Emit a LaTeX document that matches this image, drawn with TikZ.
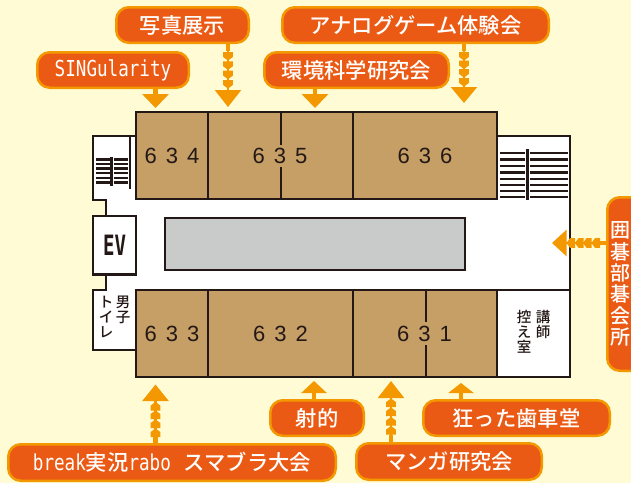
\documentclass[tikz,border=0pt]{standalone}
\usepackage{fontspec}
\usetikzlibrary{arrows.meta,calc}
\setmainfont{Noto Sans CJK JP}
\newfontfamily\jpf{Noto Sans CJK JP Medium}
\newfontfamily\latn[FakeStretch=0.8]{DejaVu Sans Mono}
\newfontfamily\evf[FakeStretch=0.68]{DejaVu Sans Mono Bold}
\newfontfamily\numf{Liberation Sans}
\definecolor{bgc}{HTML}{FFFCD5}
\definecolor{tan}{HTML}{C69F66}
\definecolor{ink}{HTML}{231815}
\definecolor{gry}{HTML}{C9CACA}
\definecolor{pillc}{HTML}{EB5A14}
\definecolor{edge}{HTML}{F39800}
\newcommand{\lat}[1]{{\latn\fontsize{22}{22}\selectfont #1}}
\newcommand{\nm}[3]{#1\hspace{9pt}#2\hspace{9pt}#3}
\tikzset{
  x=1pt,y=-1pt,
  pill/.style 2 args={draw=edge,fill=pillc,line width=2.5pt,rounded corners=12.5pt,
    minimum width={#1-2.5},minimum height={#2-2.5},inner sep=0pt,outer sep=0pt,text=white,
    font=\jpf\fontsize{21.3}{21.3}\selectfont},
  room/.style 2 args={draw=ink,fill=tan,line width=2.5pt,minimum width=#1,minimum height=#2,
    inner sep=0pt,outer sep=0pt,text=ink,font=\numf\fontsize{22}{22}\selectfont},
  wall/.style={draw=ink,line width=2.5pt,line join=miter},
  tread/.style={draw=ink,line width=2.2pt},
  vtext/.style={align=center,inner sep=0pt,text=ink,font=\jpf\fontsize{14.5}{14.8}\selectfont},
  stem/.style={draw=edge,line width=4.5pt},
  conn/.style={draw=edge,line width=#1,-{Triangle[width=26pt,length=16pt]}},
  conn/.default=4.5pt,
  pics/hs/.style={code={\fill[edge] (-4.8,-4)--(4.8,-4)--(4.8,1)--(0,4.6)--(-4.8,1)--cycle;}}
}
\begin{document}
\begin{tikzpicture}
\useasboundingbox (0,0) rectangle (631,483);
\clip (0,0) rectangle (631,483);
\fill[bgc] (0,0) rectangle (631,483);

% building shell
\path[wall,fill=white] (93,136)--(570,136)--(570,377)--(136,377)--(136,350)--(93,350)--(93,290)--(106,290)--(106,275)--(93,275)--(93,216)--(106,216)--(106,200)--(93,200)--cycle;
\draw[wall] (130,136)--(130,189);
% left stairs
\foreach \y in {159.5,164,168.5,173,178,182.5} \draw[tread] (96,\y)--(109.5,\y) (113.5,\y)--(128,\y);
\draw[wall] (111.5,157)--(111.5,186);
% right stairs
\foreach \y in {153,159.5,166,172.5,178.7,184.7,190.7,197.3} \draw[tread] (500,\y)--(525,\y) (530,\y)--(568,\y);
\draw[wall] (527.5,149)--(527.5,200);

% rooms
\node[room={72}{87}] (r634) at (172,155.5) {\nm 634};
\node[room={145}{87}] (r635) at (280.5,155.5) {};
\node[room={144}{87}] (r636) at (425,155.5) {\nm 636};
\node[room={72}{87}] (r633) at (172,333.5) {\nm 633};
\node[room={145}{87}] (r632) at (280.5,333.5) {\nm 632};
\node[room={144}{87}] (r631) at (425,333.5) {};
\coordinate (d1a) at (281,145); \coordinate (d1b) at (281,167);
\coordinate (d2a) at (426,322); \coordinate (d2b) at (426,345);
\draw[wall] (d1a |- r635.north)--(d1a) (d1b)--(d1b |- r635.south);
\draw[wall] (d2a |- r631.north)--(d2a) (d2b)--(d2b |- r631.south);
\node[text=ink,font=\numf\fontsize{22}{22}\selectfont] (n635) at (280,155.5) {\nm 635};
\node[text=ink,font=\numf\fontsize{22}{22}\selectfont] (n631) at (424.5,333.5) {\nm 631};

% lecturers' room
\node[draw=ink,fill=white,line width=2.5pt,minimum width=73,minimum height=87,outer sep=0pt] (rk) at (533.5,333.5) {};
\node[vtext,anchor=north] (t1) at (543,310.5) {講\\師};
\node[vtext,anchor=north] (t2) at (524,310.5) {控\\え\\室};

% EV and toilet
\node[draw=ink,fill=white,line width=2.5pt,minimum width=43,minimum height=58.5,inner sep=0pt,outer sep=0pt,text=ink,font=\evf\fontsize{28}{28}\selectfont] (ev) at (114.5,245) {EV\hspace{6pt}};
\node[vtext,anchor=north] (t3) at (123,296) {男\\子};
\node[vtext,anchor=north] (t4) at (106,296) {ト\\イ\\レ};

% central void
\node[draw=ink,fill=gry,line width=2.5pt,minimum width=300,minimum height=52,outer sep=0pt] (void) at (315,244) {};

% labels
\node[pill={154}{38}] (sing) at (113,70) {\lat{SINGularity}};
\node[pill={135}{38}] (shashin) at (182.5,25) {写真展示};
\node[pill={187}{38}] (kankyo) at (356.5,70) {環境科学研究会};
\node[pill={269}{38}] (analog) at (415.5,25) {アナログゲーム体験会};
\node[pill={96}{38}] (shateki) at (317,418) {射的};
\node[pill={189}{38}] (kurutta) at (516.5,418) {狂った歯車堂};
\node[pill={188}{39}] (manga) at (449,461.5) {マンガ研究会};
\node[pill={330}{39}] (brk) at (172,462.5) {\lat{break}実況\lat{rabo}\hspace{13pt}スマブラ大会};
\node[pill={68}{176}] (igo) at (640,284) {};
\node[align=center,inner sep=0pt,text=white,font=\jpf\fontsize{20}{21.3}\selectfont] (igot) at (620.5,284) {囲\\碁\\部\\碁\\会\\所};

% plain arrows
\coordinate (a1) at (155.5,108);
\coordinate (a2) at (315,108);
\coordinate (a3) at (314,381);
\coordinate (a4) at (461,383);
\draw[conn,-{Triangle[width=26pt,length=14pt]}] (a1 |- sing.south)--(a1);
\draw[conn,-{Triangle[width=26pt,length=14pt]}] (a2 |- kankyo.south)--(a2);
\draw[conn,-{Triangle[width=25pt,length=12pt]}] (a3 |- shateki.north)--(a3);
\draw[conn,-{Triangle[width=25pt,length=10pt]}] (a4 |- kurutta.north)--(a4);

% dotted arrows
\coordinate (b1) at (228,107);
\coordinate (b2) at (464,103);
\coordinate (b3) at (155.5,384.5);
\coordinate (b4) at (391,381);
\coordinate (b5) at (552,243);
\draw[conn=2.5pt,-{Triangle[width=26pt,length=17pt]}] (b1 |- shashin.south)--(b1);
\draw[conn=2.5pt] (b2 |- analog.south)--(b2);
\draw[conn=2.5pt,-{Triangle[width=26pt,length=16.5pt]}] (b3 |- brk.north)--(b3);
\draw[conn=2.5pt,-{Triangle[width=26pt,length=17pt]}] (b4 |- manga.north)--(b4);
\draw[conn=2.5pt,-{Triangle[width=26pt,length=14.5pt]}] (b5 -| igo.west)--(b5);
\draw[stem] (b1 |- shashin.south)--++(0,8);
\draw[stem] (b2 |- analog.south)--++(0,8);
\draw[stem] (b3 |- brk.north)--++(0,-8);
\draw[stem] (b4 |- manga.north)--++(0,-8);
\draw[stem] (b5 -| igo.west)--++(-8,0);
\foreach \y in {56,65.3,74.6,84} \pic at (228,\y) {hs};
\foreach \y in {56,64.5,73,82} \pic at (464,\y) {hs};
\foreach \y in {406.5,415,424,433} \pic[rotate=180] at (155.5,\y) {hs};
\foreach \y in {403,412,421.5,430.5} \pic[rotate=180] at (391,\y) {hs};
\foreach \x in {571,579.5,587.5,596} \pic[rotate=-90] at (\x,243) {hs};
\end{tikzpicture}
\end{document}
